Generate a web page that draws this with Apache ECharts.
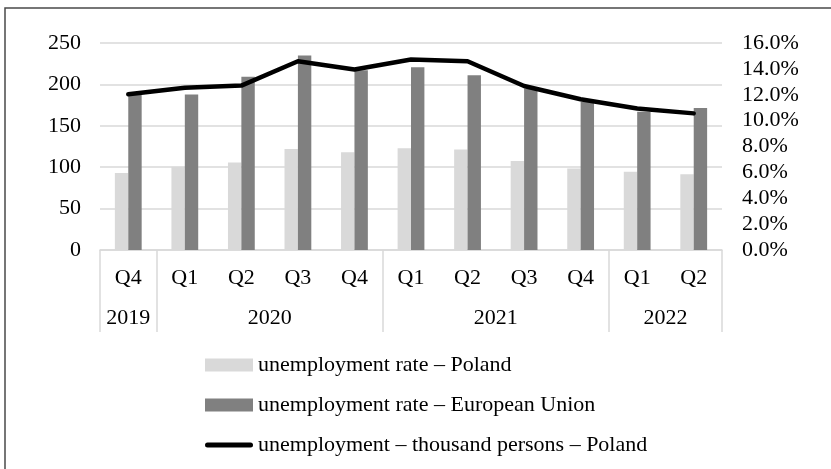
<!DOCTYPE html>
<html>
<head>
<meta charset="utf-8">
<script src="https://cdn.jsdelivr.net/npm/echarts@6/dist/echarts.min.js"></script>
<style>
  html, body { margin: 0; padding: 0; background: #fff; }
  #chart { width: 831px; height: 469px; }
</style>
</head>
<body>
<div id="chart"></div>
<script>
// Quarters and the year groups they belong to
const quarters = ['Q4', 'Q1', 'Q2', 'Q3', 'Q4', 'Q1', 'Q2', 'Q3', 'Q4', 'Q1', 'Q2'];
const years = ['2019', '2020', '2021', '2022'];
const yearSpans = [1, 4, 4, 2];

// Unemployment rate, % (right axis)
const ratePoland = [5.96, 6.43, 6.77, 7.80, 7.56, 7.87, 7.77, 6.87, 6.30, 6.04, 5.86];
const rateEU = [12.02, 12.02, 13.40, 15.03, 13.90, 14.12, 13.50, 12.48, 11.45, 10.68, 10.98];

// Unemployed persons in Poland, thousands (left axis)
const unemployedPoland = [188, 196, 198.6, 228, 218, 230, 228, 198, 182, 171, 165];

const seriesNames = [
  'unemployment rate – Poland',
  'unemployment rate – European Union',
  'unemployment – thousand persons – Poland'
];

// Group boundaries (category indices) and group centres for the year row
const groupStarts = [];
const yearCentres = {};
let acc = 0;
yearSpans.forEach(function (span, i) {
  groupStarts.push(acc);
  yearCentres[(acc + span / 2).toFixed(1)] = years[i];
  acc += span;
});

const font = 'Liberation Serif, Times New Roman, serif';
const gridColor = '#d9d9d9';

const chart = echarts.init(document.getElementById('chart'));
chart.setOption({
  animation: false,
  textStyle: { fontFamily: font },
  graphic: [{
    type: 'rect',
    shape: { x: 5, y: 8, width: 900, height: 600 },
    style: { fill: 'none', stroke: '#4a4a4a', lineWidth: 1.5 },
    silent: true
  }],
  grid: { left: 100, right: 109, top: 43, bottom: 219 },
  legend: {
    orient: 'vertical',
    left: 205,
    top: 354,
    padding: 0,
    itemWidth: 48,
    itemHeight: 13,
    itemGap: 18,
    textStyle: { fontFamily: font, fontSize: 22, color: '#000', lineHeight: 22 },
    data: [
      { name: seriesNames[0], icon: 'rect' },
      { name: seriesNames[1], icon: 'rect' },
      {
        name: seriesNames[2],
        icon: 'path://M2.5,0 H45.5 A2.5,2.5 0 0 1 45.5,5 H2.5 A2.5,2.5 0 0 1 2.5,0 Z',
        itemStyle: { color: '#000' }
      }
    ]
  },
  xAxis: [{
    type: 'category',
    data: quarters,
    boundaryGap: true,
    axisLine: { show: true, lineStyle: { color: gridColor, width: 1.5 } },
    axisTick: {
      show: true,
      length: 82,
      lineStyle: { color: gridColor, width: 1.5 },
      interval: function (index) { return groupStarts.indexOf(index) >= 0; }
    },
    axisLabel: { margin: 17, fontSize: 22, color: '#000', fontFamily: font, interval: 0 },
    splitLine: { show: false }
  }, {
    type: 'value',
    position: 'bottom',
    offset: 40,
    min: 0,
    max: quarters.length,
    interval: 0.5,
    axisLine: { show: false },
    axisTick: { show: false },
    splitLine: { show: false },
    axisLabel: {
      margin: 17,
      fontSize: 22,
      color: '#000',
      fontFamily: font,
      showMinLabel: true,
      showMaxLabel: true,
      formatter: function (v) { return yearCentres[v.toFixed(1)] || ''; }
    }
  }],
  yAxis: [{
    type: 'value',
    min: 0,
    max: 250,
    interval: 50,
    axisLine: { show: false },
    axisTick: { show: false },
    axisLabel: { margin: 19, fontSize: 22, color: '#000', fontFamily: font },
    splitLine: { show: true, lineStyle: { color: gridColor, width: 1.5 } }
  }, {
    type: 'value',
    min: 0,
    max: 16,
    interval: 2,
    position: 'right',
    axisLine: { show: false },
    axisTick: { show: false },
    axisLabel: {
      margin: 20,
      fontSize: 22,
      color: '#000',
      fontFamily: font,
      formatter: function (v) { return v.toFixed(1) + '%'; }
    },
    splitLine: { show: false }
  }],
  series: [{
    name: seriesNames[0],
    type: 'bar',
    yAxisIndex: 1,
    data: ratePoland,
    barWidth: 13.4,
    barGap: '0%',
    itemStyle: { color: '#d9d9d9' },
    z: 2
  }, {
    name: seriesNames[1],
    type: 'bar',
    yAxisIndex: 1,
    data: rateEU,
    barWidth: 13.4,
    barGap: '0%',
    itemStyle: { color: '#808080' },
    z: 2
  }, {
    name: seriesNames[2],
    type: 'line',
    yAxisIndex: 0,
    data: unemployedPoland,
    symbol: 'none',
    lineStyle: { color: '#000', width: 4.5, cap: 'round', join: 'round' },
    itemStyle: { color: '#000' },
    z: 5
  }]
});
</script>
</body>
</html>
